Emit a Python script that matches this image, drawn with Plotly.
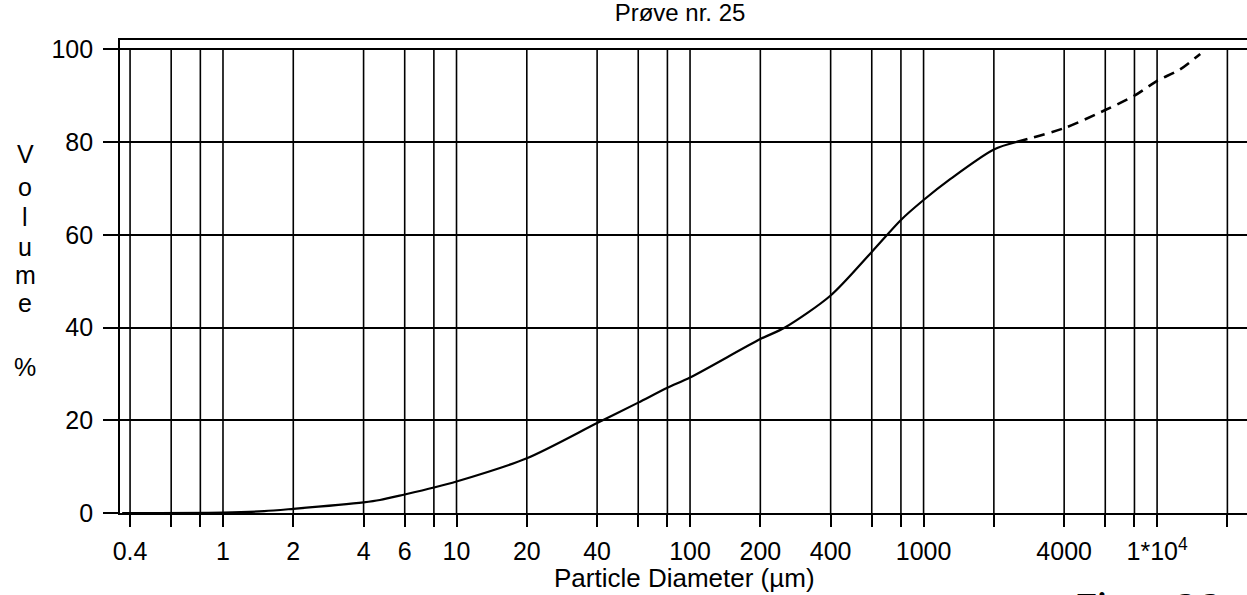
import plotly.graph_objects as go

# ---- data ----
diameter_solid = [0.37, 1, 1.5, 2, 4, 4.7, 6, 8, 10, 20, 40, 60, 80, 100, 200, 255,
                  400, 600, 800, 1000, 1300, 2000, 2500]
volume_solid = [0, 0.1, 0.4, 0.9, 2.3, 2.8, 4.0, 5.5, 6.8, 11.8, 19.4, 23.8, 27.0, 29.2,
                37.5, 40.0, 46.9, 56.3, 63.2, 67.5, 72.0, 78.4, 80.0]
diameter_dashed = [2500, 4000, 6000, 8000, 10000, 12500, 15300]
volume_dashed = [80.0, 83.0, 86.9, 90.0, 93.2, 95.6, 99.0]

x_tick_vals = [0.4, 0.6, 0.8, 1, 2, 4, 6, 8, 10, 20, 40, 60, 80, 100, 200, 400, 600, 800,
               1000, 2000, 4000, 6000, 8000, 10000, 20000]
x_tick_text = ["0.4", "", "", "1", "2", "4", "6", "", "10", "20", "40", "", "", "100", "200",
               "400", "", "", "1000", "", "4000", "", "", "1*10<sup>4</sup>", ""]
y_tick_vals = [0, 20, 40, 60, 80, 100]

title_text = "Prøve nr. 25"
x_title = "Particle Diameter (µm)"
y_title_letters = ["V", "o", "l", "u", "m", "e", "%"]
y_title_pix = [154, 187, 217, 247, 275, 303, 367]

W, H = 1247, 595
ML, MR, MT, MB = 120, 0, 40, 82
FONT = "Liberation Sans, Arial, sans-serif"

fig = go.Figure()

# vertical grid lines
for v in x_tick_vals:
    fig.add_shape(type="line", xref="x", yref="y", x0=v, x1=v, y0=0, y1=100,
                  line=dict(color="black", width=1.6), layer="below")

fig.add_trace(go.Scatter(x=diameter_solid, y=volume_solid, mode="lines",
                         line=dict(color="black", width=2.2, shape="spline", smoothing=0.8),
                         showlegend=False, hoverinfo="skip"))
fig.add_trace(go.Scatter(x=diameter_dashed, y=volume_dashed, mode="lines",
                         line=dict(color="black", width=2.6, dash="11px,7px",
                                   shape="spline", smoothing=0.8),
                         showlegend=False, hoverinfo="skip"))

def py(p):
    # pixel from top -> paper y
    return (H - MB - p) / (H - MT - MB)

def px(p):
    return (p - ML) / (W - ML - MR)

annotations = []
for letter, yp in zip(y_title_letters, y_title_pix):
    annotations.append(dict(text=letter, xref="paper", yref="paper", x=px(25), y=py(yp),
                            xanchor="center", yanchor="middle", showarrow=False,
                            font=dict(family=FONT, size=25, color="black")))
annotations.append(dict(text=x_title, xref="paper", yref="paper", x=px(684), y=py(578),
                        xanchor="center", yanchor="middle", showarrow=False,
                        font=dict(family=FONT, size=26, color="black")))
annotations.append(dict(text="<b>Figure 2.2</b>", xref="paper", yref="paper", x=px(1075),
                        y=py(585), xanchor="left", yanchor="top", showarrow=False,
                        font=dict(family="Liberation Serif, Times New Roman, serif",
                                  size=33, color="black")))

fig.update_layout(
    width=W, height=H,
    margin=dict(l=ML, r=MR, t=MT, b=MB, pad=0),
    paper_bgcolor="white", plot_bgcolor="white",
    title=dict(text=title_text, x=680 / W, xanchor="center",
               y=1 - 13 / H, yanchor="middle",
               font=dict(family=FONT, size=24, color="black")),
    annotations=annotations,
    xaxis=dict(type="log", range=[-0.441, 4.385], tickvals=x_tick_vals,
               ticktext=x_tick_text, ticks="outside", ticklen=12, tickwidth=1.6,
               tickcolor="black", showgrid=False, zeroline=False,
               showline=True, linecolor="black", linewidth=2.4, mirror=True,
               tickfont=dict(family=FONT, size=25, color="black"),
               ticklabelstandoff=3),
    yaxis=dict(range=[0, 102], tickvals=y_tick_vals, ticks="outside", ticklen=15,
               tickwidth=2.4, tickcolor="black", showgrid=True, gridcolor="black",
               gridwidth=2.4, zeroline=False, showline=True, linecolor="black",
               linewidth=1.8, tickfont=dict(family=FONT, size=25, color="black"),
               ticklabelstandoff=5),
)

fig.write_html("out.html", config={"displayModeBar": False},
               post_script="document.body.style.margin='0';")
